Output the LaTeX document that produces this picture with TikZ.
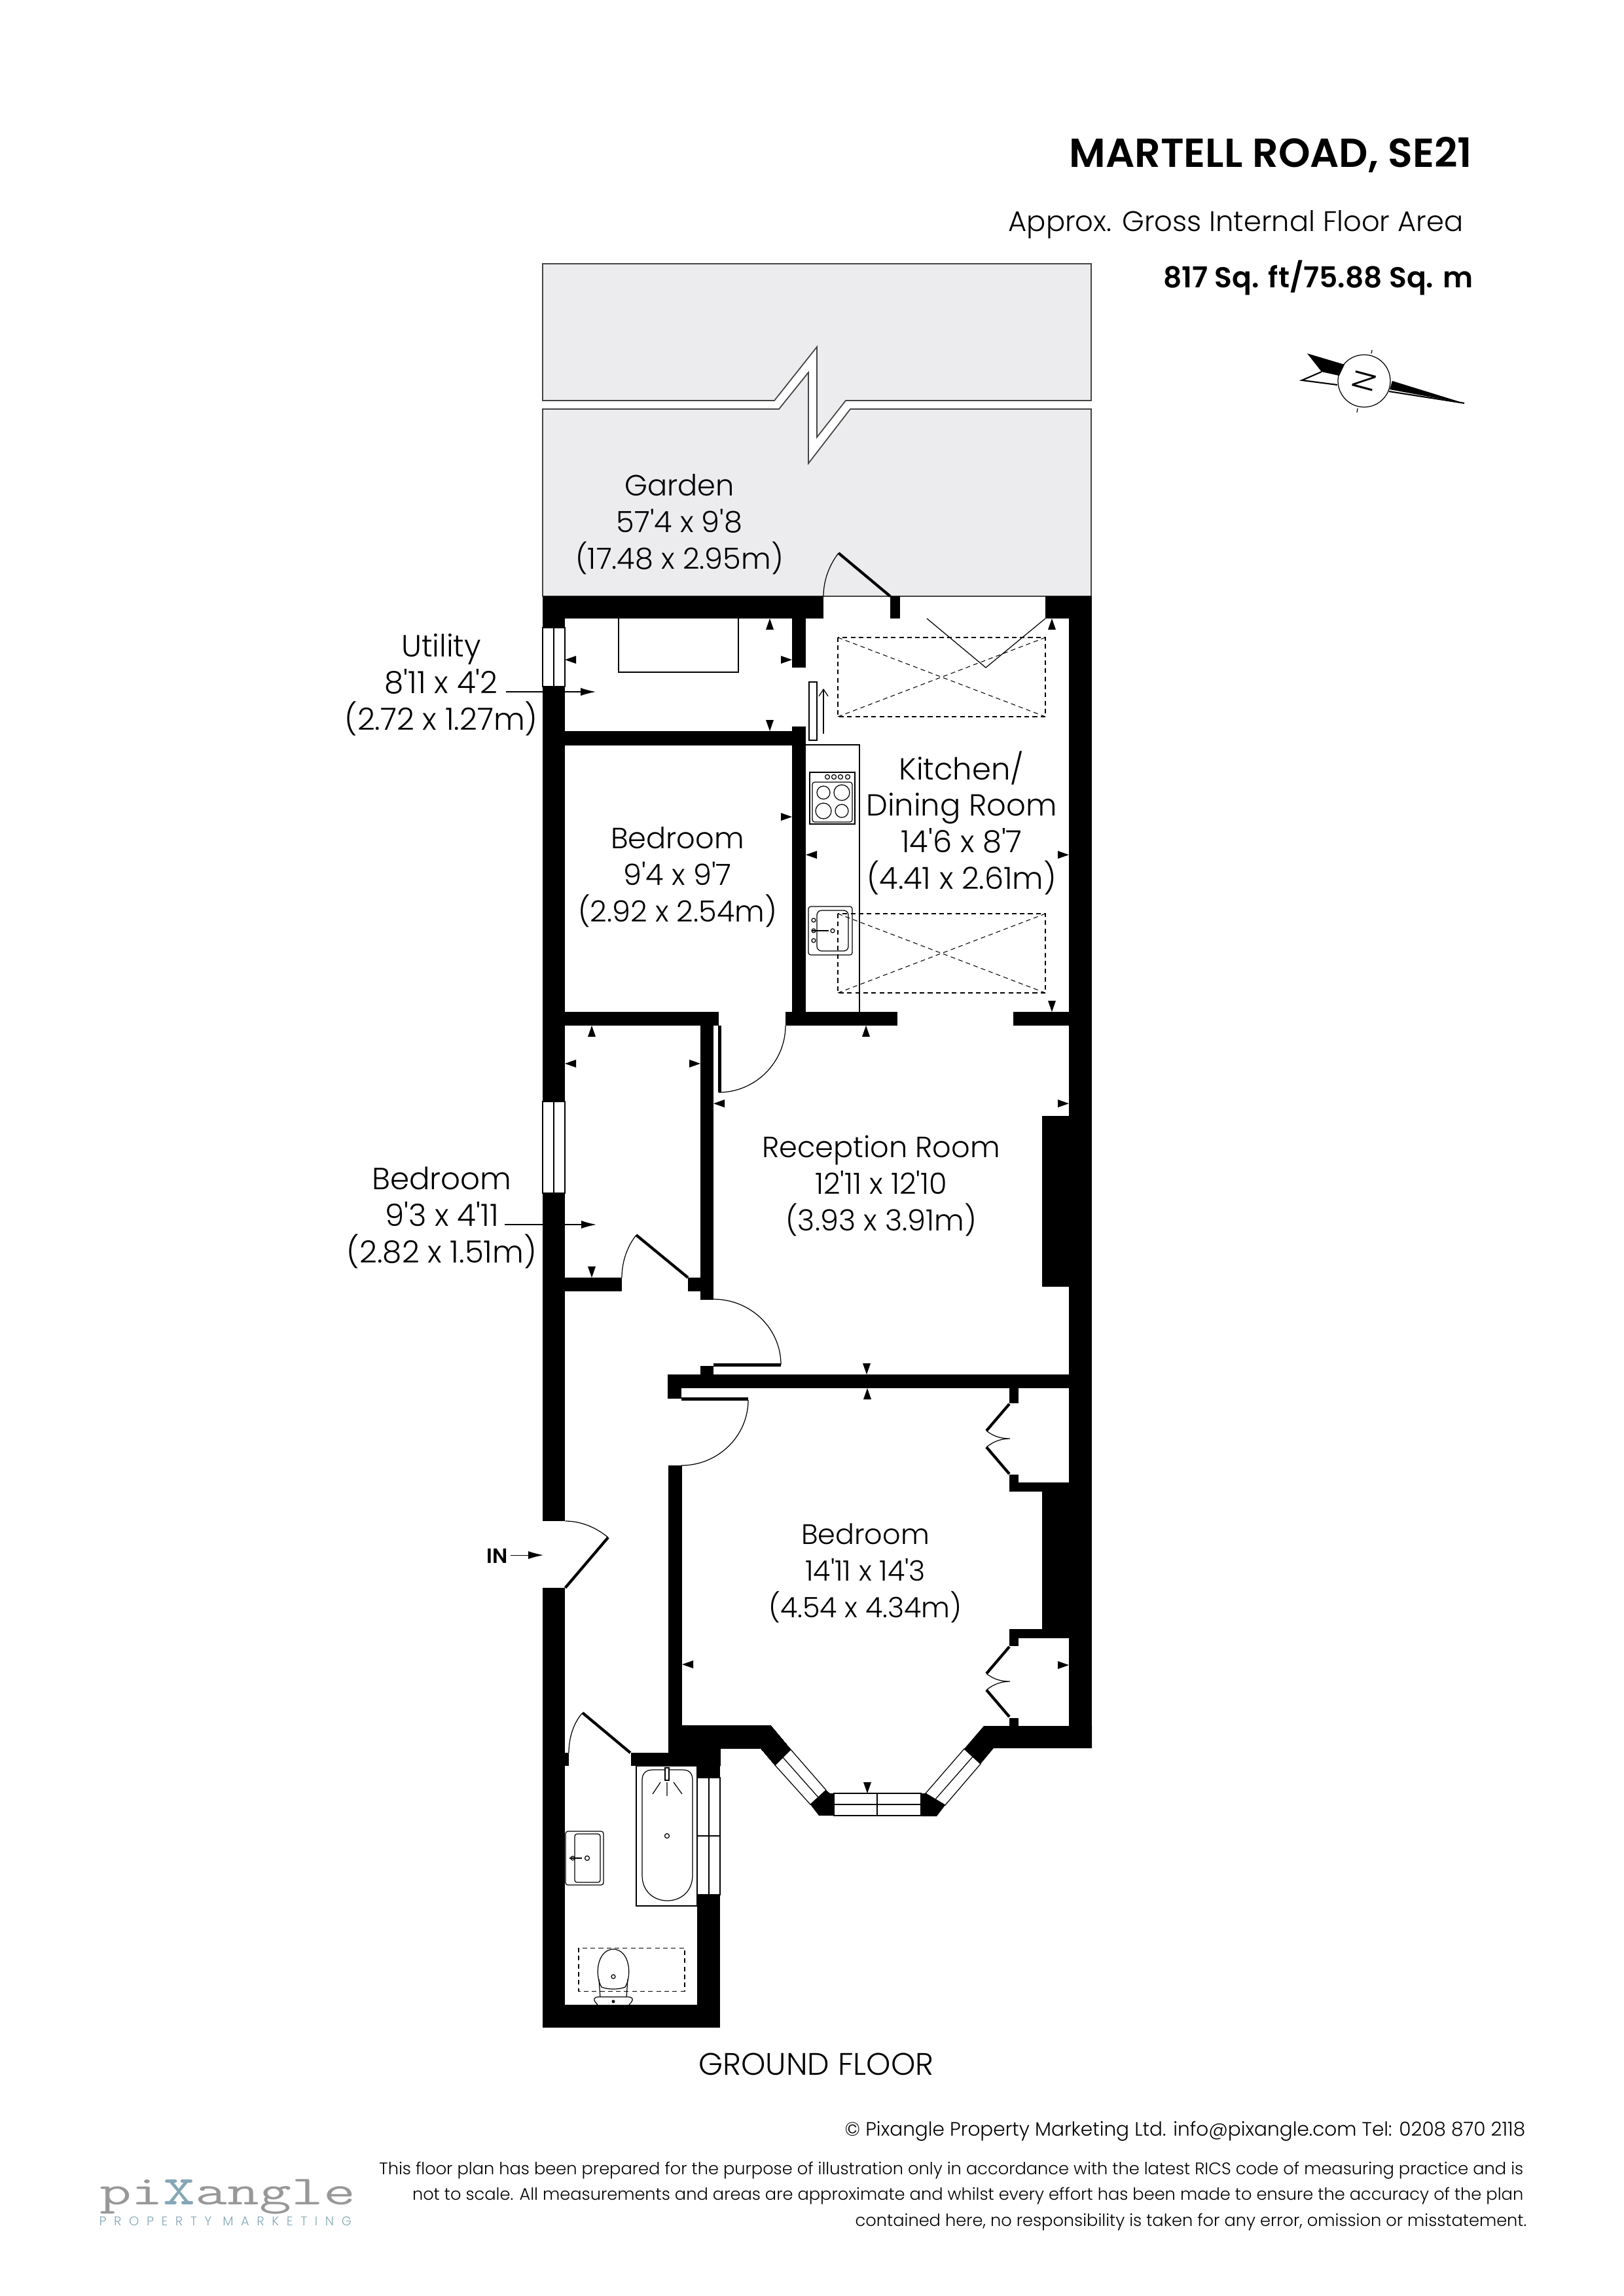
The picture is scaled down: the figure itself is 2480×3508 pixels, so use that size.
\documentclass[tikz,border=0pt]{standalone}
\usepackage{fontspec}
\setmainfont{Poppins}[UprightFont=* Light,BoldFont=* SemiBold,Ligatures=TeXOff]
\usetikzlibrary{arrows.meta,positioning}
\definecolor{gardengrey}{HTML}{ECECEE}
\definecolor{edgegrey}{HTML}{444444}
\definecolor{logogrey}{HTML}{989898}
\definecolor{logoblue}{HTML}{85A7B7}
\newcommand{\roomfont}{\fontsize{12.7}{15.79}\selectfont}
\newcommand{\wallrect}[4]{\fill[wall] (#1,#2) rectangle (#3,#4);}
\begin{document}
\begin{tikzpicture}[x=0.01cm, y=-0.01cm,
	wall/.style={fill=black, draw=none},
	thin line/.style={draw=black, line width=0.35pt},
	leaf/.style={draw=black, line width=1.2pt},
	glass/.style={draw=black, fill=white, line width=0.35pt},
	plot/.style={draw=edgegrey, fill=gardengrey, line width=0.5pt},
	hidden/.style={draw=black, line width=0.3pt, dash pattern=on 2pt off 1.5pt},
	room/.style={align=center, font=\roomfont, inner sep=0pt, anchor=base},
	note/.style={font=\fontsize{7.3}{9}\selectfont, inner sep=0pt, anchor=base east},
	leader/.style={draw=black, line width=0.3pt, -{Latex[length=6.5pt,width=3.4pt]}}]
	\useasboundingbox (0,0) rectangle (2480,3508);

	\draw[plot] (829,403) -- (1667,403) -- (1667,612) -- (1292,612) -- (1248,668) -- (1248,530) -- (1183,612) -- (829,612) -- cycle;
	\draw[plot] (829,625) -- (1190,625) -- (1235,569) -- (1235,708) -- (1299,625) -- (1667,625) -- (1667,911) -- (829,911) -- cycle;

	\foreach \xa/\ya/\xb/\yb in {829/911/1258/945, 829/945/863/959, 829/1049/863/1683, 829/1823/863/2324, 829/2426/863/3098,
		829/3063/1100/3098, 1065/2895/1100/3063, 1065/2698/1100/2716, 964/2678/1100/2698, 863/2678/869/2698,
		1021/2239/1042/2698, 1633/911/1668/2671, 1597/911/1668/945, 1592/1705/1668/1966, 1592/2279/1668/2489,
		1542/2265/1668/2279, 1542/2489/1668/2503, 1542/2121/1556/2144, 1542/2253/1556/2265, 1542/2503/1556/2515,
		1542/2625/1556/2637, 1020/2100/1668/2121, 1200/1546/1371/1567, 1548/1546/1668/1567, 1210/1110/1231/1546,
		1210/945/1231/1020, 863/1117/1210/1139, 1360/911/1375/945, 863/1546/1098/1567, 1070/1567/1090/1986,
		863/1952/950/1973, 1051/1952/1070/1973, 1070/2087/1090/2100, 1020/2121/1041/2137}
		\wallrect{\xa}{\ya}{\xb}{\yb}
	\fill[wall] (1021,2636) -- (1177,2636) -- (1208,2673) -- (1184,2697) -- (1162,2671) -- (1100,2671) -- (1100,2698) -- (1021,2698) -- cycle;
	\fill[wall] (1503,2637) -- (1668,2637) -- (1668,2671) -- (1518,2671) -- (1498,2695) -- (1473,2672) -- cycle;
	\fill[wall] (1238,2757) -- (1262,2735) -- (1268,2740) -- (1274,2740) -- (1274,2774) -- (1251,2774) -- cycle;
	\fill[wall] (1407,2740) -- (1414,2740) -- (1444,2758) -- (1431,2775) -- (1407,2775) -- cycle;

	\foreach \ya/\yb in {959/1049, 1683/1823} {
		\draw[glass] (829,\ya) rectangle (863,\yb);
		\draw[thin line] (846,\ya) -- (846,\yb);
	}
	\draw[glass] (1065,2716) rectangle (1100,2895);
	\draw[thin line] (1083,2716) -- (1083,2895) (1065,2805) -- (1100,2805);
	\draw[glass] (1274,2740) rectangle (1407,2774);
	\draw[thin line] (1274,2757) -- (1407,2757) (1340,2740) -- (1340,2774);
	\draw[glass] (1208,2673) -- (1262,2735) -- (1238,2757) -- (1184,2697) -- cycle;
	\draw[thin line] (1196,2685) -- (1250,2746);
	\draw[glass] (1473,2672) -- (1414,2740) -- (1444,2758) -- (1498,2695) -- cycle;
	\draw[thin line] (1486,2684) -- (1429,2749);

	\foreach \x/\y/\r in {1176/945/90, 1607/945/90, 1323/1567/90, 904/1567/90, 1325/2121/90,
		1176/1117/-90, 1607/1546/-90, 904/1952/-90, 1324/2100/-90, 1325/2740/-90,
		863/1008/180, 1231/1306/180, 863/1625/180, 1090/1686/180, 1042/2543/180,
		1210/1008/0, 1210/1248/0, 1633/1306/0, 1070/1625/0, 1633/1686/0, 1633/2544/0}
		\fill[shift={(\x,\y)}, rotate=\r] (0,0) -- (-17,6) -- (-17,-6) -- cycle;

	\draw[leaf] (1281,845) -- (1360,911);
	\draw[thin line] (1258,911) .. controls (1258,885) and (1268,862) .. (1281,845);
	\draw[leaf] (972,1887) -- (1051,1952);
	\draw[thin line] (950,1952) .. controls (950,1925) and (960,1902) .. (972,1887);
	\draw[leaf] (1099.5,1567) -- (1099.5,1669);
	\draw[thin line] (1098,1669) .. controls (1154,1669) and (1200,1623) .. (1200,1567);
	\draw[leaf] (1090,2085.5) -- (1193,2085.5);
	\draw[thin line] (1090,1985) .. controls (1147,1985) and (1193,2030) .. (1193,2085);
	\draw[leaf] (1041,2137.5) -- (1143,2137.5);
	\draw[thin line] (1143,2139) .. controls (1143,2194) and (1097,2239) .. (1041,2239);
	\draw[leaf] (929,2349) -- (863.5,2426);
	\draw[thin line] (863.5,2324) .. controls (888,2324) and (911,2334) .. (929,2349);
	\draw[leaf] (890,2617) -- (963,2678);
	\draw[thin line] (869,2678) .. controls (869,2652) and (878,2630) .. (890,2617);
	\foreach \d in {0,371} {
		\draw[leaf] (1542,2145+\d) -- (1507,2186+\d);
		\draw[leaf] (1507,2211+\d) -- (1542,2252+\d);
		\draw[thin line] (1507,2186+\d) .. controls (1518,2195+\d) and (1530,2198+\d) .. (1543,2198+\d) .. controls (1530,2198+\d) and (1518,2202+\d) .. (1507,2211+\d);
	}

	\draw[thin line] (945,945) -- (945,1027) -- (1128,1027) -- (1128,945);
	\draw[thin line] (1236,1042) rectangle (1248,1131);
	\draw[thin line, -{Straight Barb[length=3pt,width=4pt]}] (1258,1121) -- (1258,1052);
	\draw[thin line] (1416,945) -- (1506,1020) -- (1597,945);
	\foreach \ya/\yb in {974/1095, 1396/1517} {
		\draw[hidden] (1280,\ya) rectangle (1597,\yb);
		\draw[hidden] (1280,\ya) -- (1597,\yb) (1280,\yb) -- (1597,\ya);
	}
	\draw[thin line] (1231,1138) -- (1313,1138) -- (1313,1546);
	\draw[thin line] (1237,1180) rectangle (1306,1259);
	\draw[thin line, rounded corners=1pt] (1241,1195) rectangle (1302,1256);
	\foreach \x in {1264,1274,1284,1295}
		\draw[thin line] (\x,1187) circle (3.5);
	\foreach \x/\y/\r in {1258/1211/10, 1286/1211/12, 1258/1239/12, 1286/1239/10}
		\draw[thin line] (\x,\y) circle (\r);
	\draw[thin line, rounded corners=1pt] (1235,1385) rectangle (1302,1459);
	\draw[thin line, rounded corners=2pt] (1248,1391) rectangle (1296,1453);
	\draw[thin line, line width=0.7pt] (1241,1422) -- (1266,1422);
	\foreach \x/\y in {1243/1406, 1243/1422, 1243/1437, 1272/1422}
		\draw[thin line] (\x,\y) circle (3);

	\draw[thin line] (972,2698) rectangle (1065,2912);
	\draw[thin line] (981,2720) .. controls (981,2708) and (988,2704) .. (998,2704) -- (1042,2704) .. controls (1052,2704) and (1058,2708) .. (1058,2720) -- (1058,2865) .. controls (1058,2890) and (1040,2904) .. (1019.5,2904) .. controls (999,2904) and (981,2890) .. (981,2865) -- cycle;
	\draw[thin line] (1019,2723) -- (1019,2744) (1009,2723) -- (997,2741) (1029,2723) -- (1042,2741);
	\draw[thin line, fill=white] (1016,2701) rectangle (1022,2720);
	\draw[thin line] (1019,2805) circle (3.5);
	\draw[thin line, rounded corners=1pt] (864,2798) rectangle (922,2880);
	\draw[thin line, rounded corners=1pt] (878,2802) rectangle (917,2876);
	\draw[thin line, line width=0.7pt] (870,2839) -- (889,2839);
	\draw[thin line] (875,2839) circle (3) (897,2839) circle (3.5);
	\draw[hidden] (884,2976) rectangle (1046,3042);
	\draw[thin line, fill=white] (919,3036) .. controls (908,3018) and (912,2979) .. (937,2978) .. controls (962,2979) and (966,3018) .. (955,3036) .. controls (945,3040) and (929,3040) .. (919,3036) -- cycle;
	\draw[thin line] (937,3020) circle (3);
	\draw[thin line] (915,3024) -- (917,3052) (959,3024) -- (957,3052);
	\draw[thin line, fill=white] (913,3063) .. controls (904,3054) and (908,3051) .. (915,3051) -- (959,3051) .. controls (966,3051) and (970,3054) .. (961,3063);
	\fill (937,3058) circle (2.5);

	\fill[black] (1997,540) -- (2054,557) -- (2046,574) -- (2019,568) -- cycle;
	\draw[thin line, line width=0.6pt] (2019,568) -- (1989,581) -- (2043,588);
	\fill[black] (2127,582) -- (2237,616) -- (2123,595) -- cycle;
	\draw[thin line, line width=0.6pt] (2122,598) -- (2173,606) -- (2237,616);
	\draw[thin line] (2084,582) circle (40);
	\draw[thin line] (2096,535) -- (2095,540) (2074,624) -- (2073,630);
	\node[inner sep=0pt, rotate=75, font=\fontsize{13}{15}\selectfont] (north) at (2084,582) {N};

	\node[font=\bfseries\fontsize{17.6}{20}\selectfont, inner sep=0pt, anchor=base east] (title) at (2250,255) {MARTELL ROAD, SE21};
	\node[font=\fontsize{12.3}{14}\selectfont, inner sep=0pt, anchor=base east] (areaname) at (2236,353) {Approx. Gross Internal Floor Area};
	\node[font=\bfseries\fontsize{12.5}{14}\selectfont, inner sep=0pt, anchor=base east] (area) at (2251,439) {817 Sq. ft/75.88 Sq. m};

	\node[room] (garden) at (1038,869) {Garden\\57'4 x 9'8\\(17.48 x 2.95m)};
	\node[room, font=\fontsize{13.3}{15.79}\selectfont] (utility) at (674,1115) {Utility\\8'11 x 4'2\\(2.72 x 1.27m)};
	\node[room] (bed1) at (1035,1408) {Bedroom\\9'4 x 9'7\\(2.92 x 2.54m)};
	\node[room, font=\fontsize{13.2}{15.79}\selectfont] (kitchen) at (1469,1358) {Kitchen/\\Dining Room\\14'6 x 8'7\\(4.41 x 2.61m)};
	\node[room, font=\fontsize{13.3}{15.79}\selectfont] (bed2) at (675,1929) {Bedroom\\9'3 x 4'11\\(2.82 x 1.51m)};
	\node[room] (reception) at (1346,1880) {Reception Room\\12'11 x 12'10\\(3.93 x 3.91m)};
	\node[room, font=\fontsize{12.2}{15.79}\selectfont] (bed3) at (1322,2471) {Bedroom\\14'11 x 14'3\\(4.54 x 4.34m)};
	\node[room, font=\fontsize{13.5}{16}\selectfont] (floor) at (1247,3170) {GROUND FLOOR};
	\node[font=\bfseries\fontsize{9}{11}\selectfont, inner sep=0pt] (entry) at (760,2377) {IN};

	\coordinate (u1) at (773,1057);
	\coordinate (u2) at (910,1057);
	\coordinate (b1) at (771,1871);
	\coordinate (b2) at (911,1871);
	\coordinate (e1) at (780,2376);
	\coordinate (e2) at (830,2376);
	\draw[leader] (u1) -- (u2);
	\draw[leader] (b1) -- (b2);
	\draw[leader] (e1) -- (e2);

	\node[note, font=\fontsize{8.4}{10}\selectfont] (copy) at (2331,3263) {© Pixangle Property Marketing Ltd. info@pixangle.com Tel: 0208 870 2118};
	\node[note] (text1) at (2328,3322) {This floor plan has been prepared for the purpose of illustration only in accordance with the latest RICS code of measuring practice and is};
	\node[note] (text2) at (2328,3361) {not to scale. All measurements and areas are approximate and whilst every effort has been made to ensure the accuracy of the plan};
	\node[note] (text3) at (2333,3401) {contained here, no responsibility is taken for any error, omission or misstatement.};

	\node[inner sep=0pt, anchor=base west, xscale=1.5, transform shape, text=logogrey, font=\ttfamily\fontsize{18}{20}\selectfont] (logo) at (151,3368) {pi\textcolor{logoblue}{\scalebox{1}[1.4]{x}}angle};
	\node[inner sep=0pt, anchor=base west, text=logoblue, font=\fontsize{5.5}{7}\selectfont\addfontfeature{LetterSpace=60}] (tagline) at (151,3400) {PROPERTY MARKETING};
\end{tikzpicture}
\end{document}
